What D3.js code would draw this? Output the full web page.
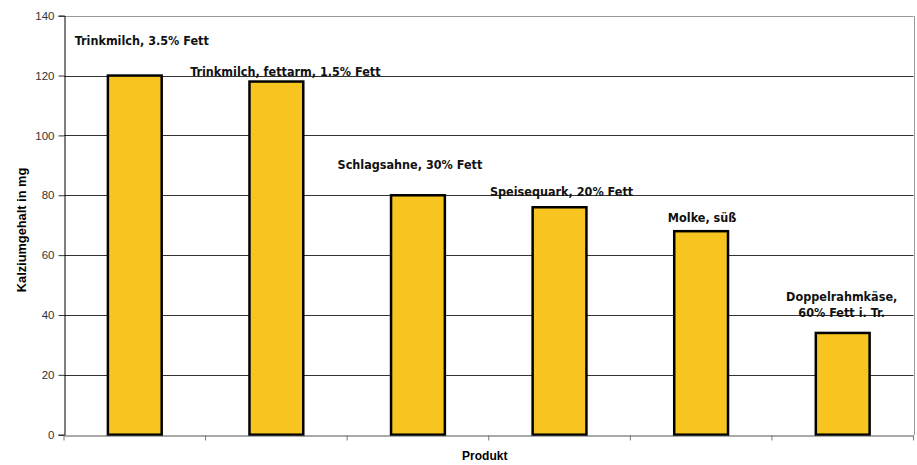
<!DOCTYPE html>
<html><head><meta charset="utf-8">
<script src="https://cdn.jsdelivr.net/npm/d3@7"></script>
<style>body{margin:0;background:#fff}svg{display:block}</style>
</head><body>
<svg id="c" width="917" height="465"></svg>
<script>
const categories = ["Trinkmilch, 3.5% Fett","Trinkmilch, fettarm, 1.5% Fett","Schlagsahne, 30% Fett","Speisequark, 20% Fett","Molke, süß","Doppelrahmkäse,\n60% Fett i. Tr."];
const values = [120,118,80,76,68,34];
const yTicks = [0,20,40,60,80,100,120,140];
const yTitle = "Kalziumgehalt in mg";
const xTitle = "Produkt";

// manual label placement (pixels), as in the original chart
const labelOffsets = [[7,-30.5],[9,-5.5],[-8,-26],[2,-11],[1,-9],[-1,-32]];

const svg = d3.select("#c");
const m = {l:64, r:917-913.5, t:15.7, b:465-434.7};
const W = 917, H = 465;
const x = d3.scaleBand().domain(d3.range(categories.length)).range([m.l, W-m.r]).paddingInner(0).paddingOuter(0);
const y = d3.scaleLinear().domain([0,140]).range([H-m.b, m.t]);

// grid lines
svg.append("g").selectAll("line").data(yTicks.filter(d=>d>0)).join("line")
  .attr("x1",m.l).attr("x2",W-m.r)
  .attr("y1",d=>Math.round(y(d))+0.5).attr("y2",d=>Math.round(y(d))+0.5)
  .attr("stroke",d=>d===140?"#999":"#333").attr("stroke-width",1);
// right border
svg.append("line").attr("x1",Math.round(W-m.r)+0.5).attr("x2",Math.round(W-m.r)+0.5)
  .attr("y1",Math.round(y(140))).attr("y2",Math.round(y(0))).attr("stroke","#999");

// bars
const bw = x.bandwidth()*0.38;
svg.append("g").selectAll("rect").data(values).join("rect")
  .attr("x",(d,i)=>x(i)+x.bandwidth()/2-bw/2)
  .attr("y",d=>y(d))
  .attr("width",bw)
  .attr("height",d=>y(0)-y(d))
  .attr("fill","#F8C41F").attr("stroke","#000").attr("stroke-width",2.5);

// y axis
const ya = d3.axisLeft(y).tickValues(yTicks).tickSize(6).tickPadding(4);
const gy = svg.append("g").attr("transform",`translate(${m.l+0.5},0)`).call(ya);
gy.select(".domain").attr("stroke","#000");
gy.selectAll(".tick line").attr("stroke","#333");
gy.selectAll("text").attr("font-family","Arial, 'Liberation Sans', sans-serif").attr("font-size",11.5).attr("fill","#333");

// x axis
const xa = d3.axisBottom(x).tickSize(0).tickFormat("");
const gx = svg.append("g").attr("transform",`translate(0,${Math.round(y(0))+0.5})`).call(xa);
gx.select(".domain").attr("stroke","#555");
gx.selectAll(".bd").data(d3.range(categories.length+1)).join("line")
  .attr("x1",i=>(i<categories.length?x(i):W-m.r)).attr("x2",i=>(i<categories.length?x(i):W-m.r))
  .attr("y1",0).attr("y2",5).attr("stroke","#777");

// data labels
const lf = "'DejaVu Sans Condensed', 'DejaVu Sans', sans-serif";
svg.append("g").selectAll("text").data(categories).join("text")
  .attr("text-anchor","middle")
  .attr("font-family",lf).attr("font-weight","bold").attr("font-size",12.5).attr("fill","#111")
  .each(function(d,i){
    const cx = x(i)+x.bandwidth()/2+labelOffsets[i][0];
    const by = y(values[i])+labelOffsets[i][1];
    d.split("\n").forEach((ln,k)=>{
      d3.select(this).append("tspan").attr("x",cx).attr("y",by+k*16).text(ln);
    });
  });

// axis titles
svg.append("text").attr("transform",`translate(26,230) rotate(-90)`)
  .attr("text-anchor","middle").attr("font-family","Arial, 'Liberation Sans', sans-serif")
  .attr("font-weight","bold").attr("font-size",12.8).text(yTitle);
svg.append("text").attr("x",(m.l+W-m.r)/2-4).attr("y",460)
  .attr("text-anchor","middle").attr("font-family","Arial, 'Liberation Sans', sans-serif")
  .attr("font-weight","bold").attr("font-size",12).text(xTitle);
</script>
</body></html>
